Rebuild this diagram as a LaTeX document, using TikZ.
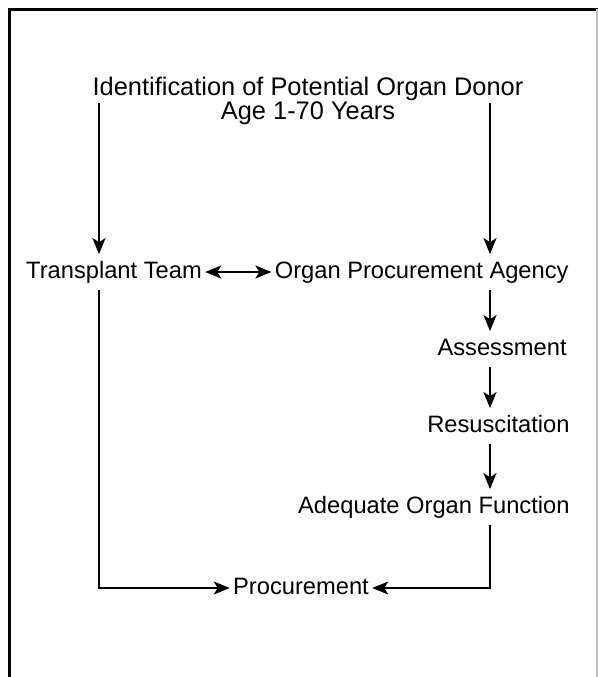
\documentclass[tikz,border=0pt]{standalone}
\usepackage{fontspec}
\setmainfont{Liberation Sans}
\usetikzlibrary{arrows.meta}

\tikzset{
	lbl/.style={inner xsep=1.5pt, inner ysep=3pt, text height=9pt, text depth=2.5pt, font=\fontsize{11.85}{12}\selectfont},
	arr/.style={-{Stealth[length=8pt,width=6.5pt,inset=2pt]}, line width=1pt},
	dbl/.style={{Stealth[length=8pt,width=6.5pt,inset=2pt]}-{Stealth[length=8pt,width=6.5pt,inset=2pt]}, line width=1pt},
	lnk/.style={-{Stealth[length=8pt,width=6.5pt,inset=2pt]}, line width=0.8pt},
}

\begin{document}
\begin{tikzpicture}[x=0.5pt,y=-0.5pt]
		\useasboundingbox (0,0) rectangle (598,677);
		\draw[line width=1.5pt](10,677)--(10,9)--(598,9);
		\draw[gray!50, line width=0.6pt](597,9)--(597,677);
		\node[align=center, font=\fontsize{12.7}{12}\selectfont](donor) at (308,101){Identification of Potential Organ Donor\\Age 1-70 Years};
		\node[lbl](team) at (114,272){Transplant Team};
		\node[lbl, anchor=east](agency) at (572,272){Organ Procurement Agency};
		\node[lbl, anchor=east](assess) at (570,349){Assessment};
		\node[lbl, anchor=east](resus) at (573,426){Resuscitation};
		\node[lbl, anchor=east](adequate) at (573,507){Adequate Organ Function};
		\node[lbl](procure) at (301,588){Procurement};
		\coordinate (lft) at (99,103);
		\coordinate (rgt) at (490,103);
		\draw[arr](lft)--(lft |- team.north);
		\draw[arr](rgt)--(rgt |- agency.north);
		\draw[dbl](team)--(agency);
		\draw[arr](agency.south -| rgt)--(assess.north -| rgt);
		\draw[arr](assess.south -| rgt)--(resus.north -| rgt);
		\draw[arr](resus.south -| rgt)--(adequate.north -| rgt);
		\draw[lnk](team.south -| lft)|-(procure);
		\draw[lnk](adequate.south -| rgt)|-(procure);
\end{tikzpicture}
\end{document}
